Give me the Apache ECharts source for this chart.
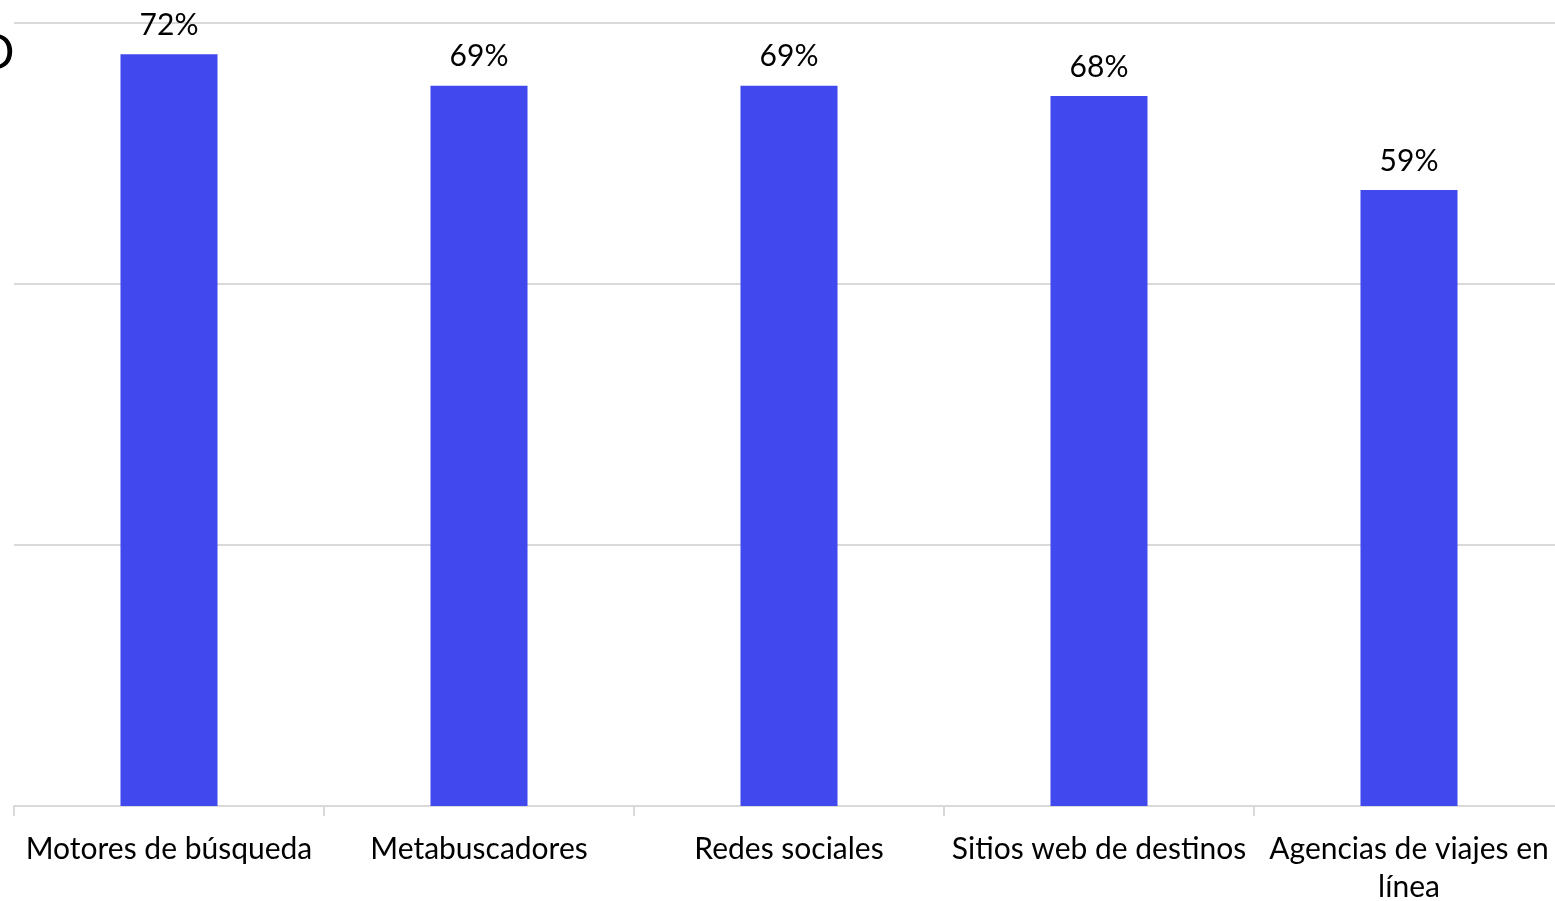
<!DOCTYPE html>
<html>
<head>
<meta charset="utf-8">
<script src="https://cdn.jsdelivr.net/npm/echarts@6/dist/echarts.min.js"></script>
<style>
html,body{margin:0;padding:0;background:#fff;}
#chart{width:1555px;height:901px;}
</style>
</head>
<body>
<div id="chart"></div>
<script>
const categories = ["Motores de búsqueda", "Metabuscadores", "Redes sociales", "Sitios web de destinos", "Agencias de viajes en línea"];
const values = [72, 69, 69, 68, 59];
const yTicks = [0, 25, 50, 75];

const chart = echarts.init(document.getElementById('chart'), null, {renderer: 'canvas'});
const FONT = 'Lato, "Noto Sans", sans-serif';
chart.setOption({
  animation: false,
  backgroundColor: '#ffffff',
  grid: {left: 14, width: 1550, top: 23, height: 783, containLabel: false, outerBoundsMode: 'none'},
  graphic: [{
    type: 'text', left: -22, top: 30,
    style: {text: 'D', fontSize: 48, fontFamily: FONT, fill: '#000'}
  }],
  xAxis: {
    type: 'category',
    data: categories,
    axisLine: {show: true, lineStyle: {color: '#d9d9d9', width: 2}},
    axisTick: {show: true, length: 10, lineStyle: {color: '#d9d9d9', width: 2}},
    axisLabel: {
      color: '#000', fontSize: 30, fontFamily: FONT, margin: 24, lineHeight: 38,
      interval: 0,
      formatter: v => v === 'Agencias de viajes en línea' ? 'Agencias de viajes en\nlínea' : v
    }
  },
  yAxis: {
    type: 'value', min: yTicks[0], max: yTicks[yTicks.length - 1], interval: 25,
    axisLine: {show: false}, axisTick: {show: false}, axisLabel: {show: false},
    splitLine: {lineStyle: {color: '#d9d9d9', width: 2}}
  },
  series: [{
    type: 'bar',
    data: values,
    barWidth: '31.3%',
    itemStyle: {color: '#4148EE'},
    label: {
      show: true, position: 'top', distance: 14,
      formatter: p => p.value + '%',
      color: '#000', fontSize: 30, fontFamily: FONT
    }
  }]
});
</script>
</body>
</html>
